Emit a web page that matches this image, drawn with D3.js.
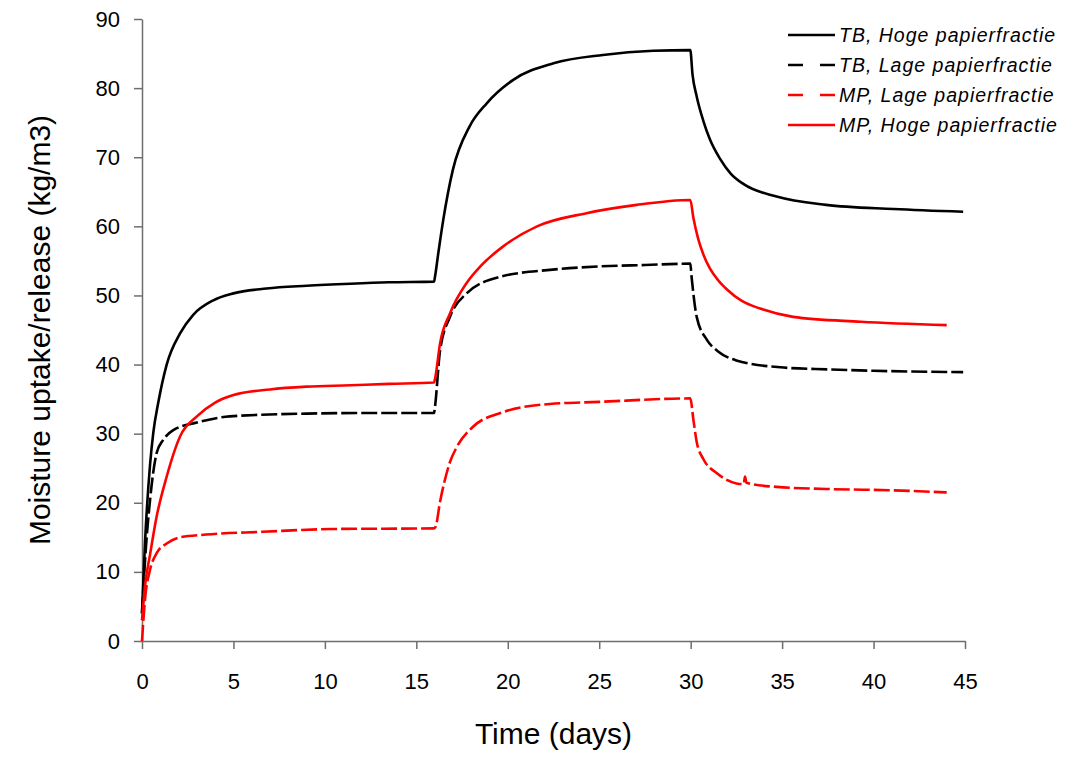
<!DOCTYPE html>
<html lang="en">
<head>
    <meta charset="UTF-8">
    <title>Moisture uptake/release</title>
    <script src="https://d3js.org/d3.v7.min.js"></script>
    <style>
        body { margin: 0; background: white; font-family: Arial, "Liberation Sans", sans-serif; }
        .axis path, .axis line { stroke: #6e6e6e; stroke-width: 1.5px; }
        .axis text { font-family: Arial, "Liberation Sans", sans-serif; font-size: 22px; fill: #000; }
        .legend text { font-family: Arial, "Liberation Sans", sans-serif; font-style: italic; font-size: 19.5px; letter-spacing: 1px; }
    </style>
</head>
<body>
<script>
    // Series (time in days, value in kg/m3)
    const tbHogeT = [0, 0.16, 0.44, 0.62, 0.89, 1.35, 2.08, 2.8, 3.9, 5.0, 6.8, 9, 11.4, 13.5, 15.97,
        16.02, 16.2, 16.47, 17.0, 17.9, 18.85, 20.3, 22.5, 25.2, 27.95, 29.98,
        30.1, 30.33, 30.7, 31.05, 31.6, 32.2, 32.9, 34.7, 37.4, 41.1, 44.9];
    const tbHogeV = [4, 14, 25.5, 30.2, 34.5, 40.0, 44.5, 47.2, 49.3, 50.3, 51.0, 51.4, 51.7, 51.9, 52.0,
        52.7, 56.1, 60.9, 68.2, 74.4, 77.8, 81.2, 83.6, 84.8, 85.4, 85.5,
        82.0, 78.8, 75.2, 72.6, 69.8, 67.6, 66.1, 64.3, 63.1, 62.5, 62.1];

    const tbLageT = [0, 0.2, 0.44, 0.8, 1.16, 1.71, 3.0, 4.8, 9.0, 12.5, 15.97,
        16.02, 16.3, 16.84, 17.75, 19.6, 22.3, 25.0, 27.5, 29.98,
        30.05, 30.33, 30.88, 31.5, 32.5, 34.9, 37.5, 40, 44.9];
    const tbLageV = [4, 13, 20.4, 27.2, 29.1, 30.5, 31.6, 32.5, 32.9, 33.0, 33.0,
        33.9, 42.1, 46.9, 50.3, 52.7, 53.7, 54.2, 54.4, 54.6,
        52.7, 46.9, 43.6, 41.9, 40.6, 39.6, 39.3, 39.1, 38.9];

    const mpLageT = [0, 0.16, 0.44, 0.8, 1.35, 2.08, 3.5, 6.6, 10.3, 15.97,
        16.05, 16.3, 16.57, 16.84, 17.2, 18.1, 19.6, 22.3, 25.0, 29.98,
        30.15, 30.33, 30.7, 31.42, 32.5, 32.9, 32.97, 33.05, 33.2, 34.7, 37.4, 41.1, 44.0];
    const mpLageV = [0, 5.9, 10.3, 12.7, 14.1, 15.0, 15.4, 15.8, 16.2, 16.3,
        16.5, 20.2, 23.4, 25.9, 28.0, 31.0, 33.0, 34.3, 34.6, 35.1,
        32.0, 28.8, 26.3, 24.3, 22.8, 22.7, 23.8, 22.9, 22.8, 22.3, 22.0, 21.8, 21.5];

    const mpHogeT = [0, 0.16, 0.44, 0.8, 1.35, 2.08, 3.0, 4.0, 5.0, 7.0, 9, 11.4, 13.5, 15.97,
        16.02, 16.3, 16.84, 17.75, 18.5, 19.75, 21.6, 24.3, 27.05, 29.98,
        30.15, 30.4, 30.7, 31.05, 31.5, 31.97, 32.8, 33.8, 35.6, 39.3, 44.0];
    const mpHogeV = [3, 7.9, 12.5, 18.0, 23.8, 29.6, 32.5, 34.5, 35.6, 36.4, 36.8, 37.0, 37.2, 37.4,
        37.9, 43.1, 47.4, 51.8, 54.2, 57.1, 60.0, 61.9, 63.1, 63.8,
        61.2, 58.3, 55.9, 53.9, 52.2, 50.9, 49.2, 48.1, 46.9, 46.2, 45.7];

    const seriesNames = ["TB, Hoge papierfractie", "TB, Lage papierfractie",
        "MP, Lage papierfractie", "MP, Hoge papierfractie"];
    const xTicks = [0, 5, 10, 15, 20, 25, 30, 35, 40, 45];
    const yTicks = [0, 10, 20, 30, 40, 50, 60, 70, 80, 90];

    const series = [
        { name: seriesNames[0], t: tbHogeT, v: tbHogeV, color: "#000000", dashed: false },
        { name: seriesNames[1], t: tbLageT, v: tbLageV, color: "#000000", dashed: true },
        { name: seriesNames[2], t: mpLageT, v: mpLageV, color: "#ff0000", dashed: true },
        { name: seriesNames[3], t: mpHogeT, v: mpHogeV, color: "#ff0000", dashed: false }
    ];

    const margin = {top: 19, right: 117, bottom: 118, left: 142};
    const W = 1082, H = 759;
    const width = W - margin.left - margin.right;
    const height = H - margin.top - margin.bottom;

    const root = d3.select("body").append("svg")
        .attr("width", W)
        .attr("height", H);
    const svg = root.append("g")
        .attr("transform", `translate(${margin.left},${margin.top})`);

    const x = d3.scaleLinear().domain([0, 45]).range([0, width]);
    const y = d3.scaleLinear().domain([0, 90]).range([height, 0]);

    svg.append("g")
        .attr("class", "axis")
        .attr("transform", `translate(0,${height})`)
        .call(d3.axisBottom(x).tickValues(xTicks).tickSize(8).tickPadding(24).tickSizeOuter(0));

    svg.append("g")
        .attr("class", "axis")
        .call(d3.axisLeft(y).tickValues(yTicks).tickSize(8).tickPadding(14).tickSizeOuter(0));

    // Lines
    const line = d3.line()
        .x(d => x(d[0]))
        .y(d => y(d[1]))
        .curve(d3.curveMonotoneX);

    series.forEach(s => {
        svg.append("path")
            .datum(s.t.map((t, i) => [t, s.v[i]]))
            .attr("fill", "none")
            .attr("stroke", s.color)
            .attr("stroke-width", 2.6)
            .attr("stroke-dasharray", s.dashed ? "16,4" : null)
            .attr("d", line);
    });

    // Axis titles
    root.append("text")
        .attr("x", margin.left + width / 2)
        .attr("y", 744)
        .attr("text-anchor", "middle")
        .style("font-size", "30px")
        .text("Time (days)");

    root.append("text")
        .attr("transform", `translate(50,${margin.top + height / 2}) rotate(-90)`)
        .attr("text-anchor", "middle")
        .style("font-size", "30px")
        .text("Moisture uptake/release (kg/m3)");

    // Legend
    const legend = root.append("g").attr("class", "legend");
    series.forEach((s, i) => {
        const ly = 35 + i * 30;
        legend.append("line")
            .attr("x1", 788).attr("x2", 835)
            .attr("y1", ly).attr("y2", ly)
            .attr("stroke", s.color)
            .attr("stroke-width", 2.6)
            .attr("stroke-dasharray", s.dashed ? "15,17" : null);
        legend.append("text")
            .attr("x", 839)
            .attr("y", ly)
            .attr("dy", "0.35em")
            .text(s.name);
    });
</script>
</body>
</html>
